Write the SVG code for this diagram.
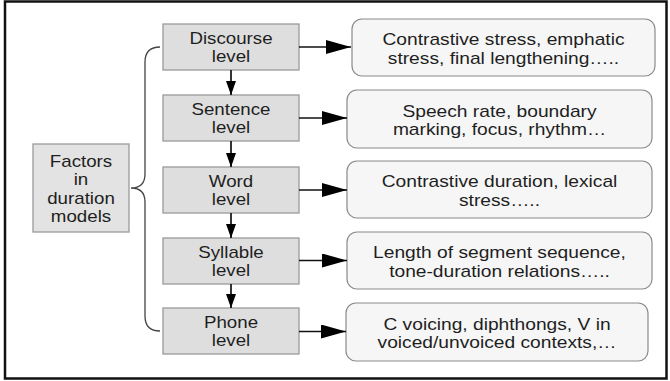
<svg xmlns="http://www.w3.org/2000/svg" width="670" height="381" viewBox="0 0 670 381">
<style>
.lvl rect{fill:#dedede;stroke:#9a9a9a;stroke-width:1.3}
.fac rect{fill:#e3e3e3;stroke:#9a9a9a;stroke-width:1.3}
.ann rect{fill:#f6f6f6;stroke:#8a8a8a;stroke-width:1.2}
text{font-family:"Liberation Sans",Arial,sans-serif;font-size:16px;fill:#1e1e1e;text-anchor:middle}
.conn line{stroke:#111;stroke-width:1.7}
.brace{fill:none;stroke:#444;stroke-width:1.3}
</style>
<defs>
<marker id="ah" markerUnits="userSpaceOnUse" markerWidth="26" markerHeight="14" refX="25" refY="7" orient="auto"><path d="M0,0 L25,7 L0,14 z" fill="#000"/></marker>
<marker id="av" markerUnits="userSpaceOnUse" markerWidth="15" markerHeight="10" refX="14" refY="5" orient="auto"><path d="M0,0 L14,5 L0,10 z" fill="#000"/></marker>
</defs>
<rect x="5" y="1.5" width="661.5" height="377" fill="#fff" stroke="#111" stroke-width="2.5"/>

<g id="factors" class="fac">
<rect x="33" y="144" width="96" height="88"/>
<text transform="translate(81,166.5) scale(1.17,1)">Factors</text>
<text transform="translate(81,185) scale(1.17,1)">in</text>
<text transform="translate(81,203.5) scale(1.17,1)">duration</text>
<text transform="translate(81,222) scale(1.17,1)">models</text>
</g>

<g id="discourse" class="lvl">
<rect x="163" y="24" width="136" height="46"/>
<text transform="translate(231,43.5) scale(1.17,1)">Discourse</text>
<text transform="translate(231,62) scale(1.17,1)">level</text>
</g>
<g id="sentence" class="lvl">
<rect x="163" y="95" width="136" height="46"/>
<text transform="translate(231,114.5) scale(1.17,1)">Sentence</text>
<text transform="translate(231,133) scale(1.17,1)">level</text>
</g>
<g id="word" class="lvl">
<rect x="163" y="167" width="136" height="46"/>
<text transform="translate(231,186.5) scale(1.17,1)">Word</text>
<text transform="translate(231,205) scale(1.17,1)">level</text>
</g>
<g id="syllable" class="lvl">
<rect x="163" y="238" width="136" height="46"/>
<text transform="translate(231,257.5) scale(1.17,1)">Syllable</text>
<text transform="translate(231,276) scale(1.17,1)">level</text>
</g>
<g id="phone" class="lvl">
<rect x="163" y="308" width="136" height="46"/>
<text transform="translate(231,327.5) scale(1.17,1)">Phone</text>
<text transform="translate(231,346) scale(1.17,1)">level</text>
</g>

<g id="ann-discourse" class="ann">
<rect x="352" y="19" width="303" height="57" rx="10"/>
<text transform="translate(503.5,45.3) scale(1.2,1)">Contrastive stress, emphatic</text>
<text transform="translate(503.5,63.8) scale(1.2,1)">stress, final lengthening…..</text>
</g>
<g id="ann-sentence" class="ann">
<rect x="347" y="90" width="305" height="58" rx="10"/>
<text transform="translate(499.5,116.8) scale(1.2,1)">Speech rate, boundary</text>
<text transform="translate(499.5,135.3) scale(1.2,1)">marking, focus, rhythm…</text>
</g>
<g id="ann-word" class="ann">
<rect x="347" y="161" width="305" height="57" rx="10"/>
<text transform="translate(499.5,187.3) scale(1.2,1)">Contrastive duration, lexical</text>
<text transform="translate(499.5,205.8) scale(1.2,1)">stress…..</text>
</g>
<g id="ann-syllable" class="ann">
<rect x="347" y="232" width="305" height="57" rx="10"/>
<text transform="translate(499.5,258) scale(1.2,1)">Length of segment sequence,</text>
<text transform="translate(499.5,276.5) scale(1.2,1)">tone-duration relations…..</text>
</g>
<g id="ann-phone" class="ann">
<rect x="346" y="303" width="302" height="58" rx="10"/>
<text transform="translate(497,329.5) scale(1.2,1)">C voicing, diphthongs, V in</text>
<text transform="translate(497,348.2) scale(1.2,1)">voiced/unvoiced contexts,…</text>
</g>

<g id="connectors" class="conn">
<path class="brace" d="M160,47 C150,47 145,52 145,62 L145,174 C145,183 140,188 131,188 C140,188 145,193 145,202 L145,316 C145,326 150,331 160,331"/>
<line x1="299" y1="47" x2="351" y2="47" marker-end="url(#ah)"/>
<line x1="299" y1="118" x2="347" y2="118" marker-end="url(#ah)"/>
<line x1="299" y1="190" x2="347" y2="190" marker-end="url(#ah)"/>
<line x1="299" y1="260.5" x2="347" y2="260.5" marker-end="url(#ah)"/>
<line x1="299" y1="331.5" x2="346" y2="331.5" marker-end="url(#ah)"/>
<line x1="231" y1="70" x2="231" y2="95" marker-end="url(#av)"/>
<line x1="231" y1="141" x2="231" y2="167" marker-end="url(#av)"/>
<line x1="231" y1="213" x2="231" y2="238" marker-end="url(#av)"/>
<line x1="231" y1="284" x2="231" y2="308" marker-end="url(#av)"/>
</g>
</svg>
